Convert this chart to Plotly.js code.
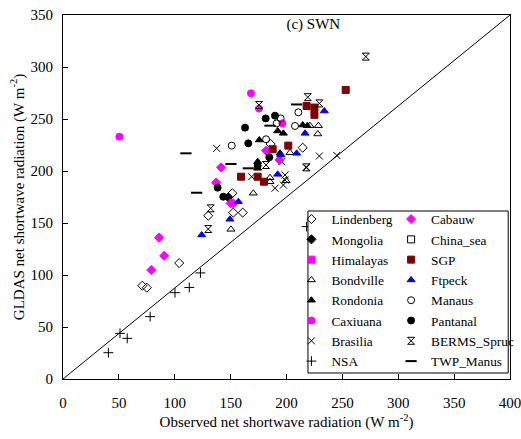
<!DOCTYPE html>
<html>
<head>
<meta charset="utf-8">
<script src="https://cdn.plot.ly/plotly-3.0.1.min.js"></script>
<style>html,body{margin:0;padding:0;background:#fff;}#chart{width:521px;height:439px;}</style>
</head>
<body>
<div id="chart"></div>
<script>
// ---- data (observed x, GLDAS y), W m-2 ----
var lindenbergX = [71, 75, 104, 130, 151.5, 152.4, 160.8, 185.8, 214.5];
var lindenbergY = [89.7, 87.8, 111.5, 157, 178.6, 160, 160, 226, 222.4];
var cabauwX = [79, 85.9, 90.6, 136.9, 141.4, 150, 152.4, 181.7, 193.6];
var cabauwY = [104.8, 135.9, 118.6, 188.8, 203.5, 168.9, 168.9, 219.5, 210.6];
var mongoliaX = [147.9];
var mongoliaY = [174.7];
var chinaSeaX = [null];
var chinaSeaY = [null];
var himalayasX = [null];
var himalayasY = [null];
var sgpX = [159.3, 174.2, 179.9, 187.6, 201.6, 218, 225, 225, 253];
var sgpY = [194.5, 194.5, 189.7, 220.9, 224.4, 262.5, 261, 254, 278];
var bondvilleX = [150.3, 170.3, 185.2, 185.2, 199.6, 203.1, 221, 228.5, 228];
var bondvilleY = [143.9, 178.6, 193.6, 189.7, 190.7, 217.6, 243.6, 243.6, 235.6];
var ftpeckX = [124.1, 149.4, 156.9, 192.1, 195, 209.1, 216.6, 233.8];
var ftpeckY = [138.5, 153.6, 170.5, 196.8, 215.4, 217, 236.2, 257.7];
var rondoniaX = [174.2, 174.2, 175.7, 192.1, 197.2, 194.2, 214.5, 218.6];
var rondoniaY = [209, 202.6, 229.8, 238.5, 236.2, 217, 244.2, 243.5];
var manausX = [151, 181.7, 194.8, 191.2, 207.6, 210.6];
var manausY = [224.4, 230.5, 250.6, 245.8, 243.3, 256.4];
var caxiuanaX = [50.4, 168.2, 175.4, 196.3];
var caxiuanaY = [233, 274.7, 260, 245.8];
var pantanalX = [138.4, 143.4, 162.9, 165.8, 181.4, 189.7, 184.6, 174.2];
var pantanalY = [184, 175.3, 241.7, 226.6, 250.6, 253.2, 213.2, 205];
var brasiliaX = [137.5, 168.8, 189.7, 197.2, 198.7, 198.7, 195.7, 217.4, 229.4, 245];
var brasiliaY = [221.8, 194.5, 183.4, 186.5, 196.2, 191.3, 209, 203.5, 214.4, 215];
var bermsX = [130, 132.2, 175.4, 181.7, 219, 229.4, 271, 218];
var bermsY = [144.2, 164.1, 263.5, 205.8, 271, 265, 310, 203.5];
var nsaX = [40.6, 51, 57.5, 78, 100.2, 113, 123, 218];
var nsaY = [25.3, 43.9, 39.1, 60, 83, 88, 102, 146.5];
var twpX = [110, 119.6, 150.3, 165.8, 185.2, 209];
var twpY = [217, 179.1, 206.7, 202.6, 243.6, 264];
var oneToOneX = [0, 400];
var oneToOneY = [0, 350];

var xTicks = [0, 50, 100, 150, 200, 250, 300, 350, 400];
var yTicks = [0, 50, 100, 150, 200, 250, 300, 350];

var MAG = '#FF00FF', DRED = '#800000', BLUE = '#0000FF', BLK = '#000000';
function tr(name, x, y, symbol, color, size, lg) {
  return {type: 'scatter', mode: 'markers', name: name, x: x, y: y, legend: lg,
    marker: {symbol: symbol, color: color, size: size, line: {color: color, width: 1}},
    cliponaxis: false, hoverinfo: 'skip'};
}
var traces = [
  {type: 'scatter', mode: 'lines', x: oneToOneX, y: oneToOneY, showlegend: false,
   line: {color: '#000', width: 1}, hoverinfo: 'skip'},
  tr('Lindenberg', lindenbergX, lindenbergY, 'diamond-open', BLK, 7, 'legend'),
  tr('Mongolia', mongoliaX, mongoliaY, 'diamond', BLK, 7, 'legend'),
  tr('Himalayas', himalayasX, himalayasY, 'square', MAG, 7, 'legend'),
  tr('Bondville', bondvilleX, bondvilleY, 'triangle-up-open', BLK, 7, 'legend'),
  tr('Rondonia', rondoniaX, rondoniaY, 'triangle-up', BLK, 7, 'legend'),
  tr('Caxiuana', caxiuanaX, caxiuanaY, 'circle', MAG, 7, 'legend'),
  tr('Brasilia', brasiliaX, brasiliaY, 'x-thin-open', BLK, 7, 'legend'),
  tr('NSA', nsaX, nsaY, 'cross-thin-open', BLK, 7, 'legend'),
  tr('Cabauw', cabauwX, cabauwY, 'diamond', MAG, 7, 'legend2'),
  tr('China_sea', chinaSeaX, chinaSeaY, 'square-open', BLK, 7, 'legend2'),
  tr('SGP', sgpX, sgpY, 'square', DRED, 7, 'legend2'),
  tr('Ftpeck', ftpeckX, ftpeckY, 'triangle-up', BLUE, 7, 'legend2'),
  tr('Manaus', manausX, manausY, 'circle-open', BLK, 7, 'legend2'),
  tr('Pantanal', pantanalX, pantanalY, 'circle', BLK, 7, 'legend2'),
  tr('BERMS_Spruc', bermsX, bermsY, 'hourglass-open', BLK, 7, 'legend2'),
  tr('TWP_Manus', twpX, twpY, 'line-ew-open', BLK, 8, 'legend2')
];
traces.forEach(function(t){ if (t.marker && t.marker.symbol === 'line-ew-open') t.marker.line.width = 2; });

var FONT = 'Liberation Serif';
var legendCommon = {
  bgcolor: 'rgba(0,0,0,0)', borderwidth: 0, orientation: 'v',
  font: {family: FONT, size: 13.3, color: '#000'},
  xanchor: 'left', yanchor: 'top', tracegroupgap: 0, itemwidth: 30
};
var layout = {
  width: 521, height: 439,
  margin: {l: 63, r: 11, t: 15, b: 60, autoexpand: false},
  paper_bgcolor: '#fff', plot_bgcolor: '#fff',
  font: {family: FONT, size: 15, color: '#000'},
  title: {text: '(c) SWN', xref: 'paper', yref: 'paper', x: 0.56, y: 0.975,
          xanchor: 'center', yanchor: 'middle', font: {family: FONT, size: 15, color: '#000'}},
  xaxis: {range: [0, 400], tickvals: xTicks, ticktext: xTicks.map(String),
          ticks: 'inside', ticklen: 5, tickcolor: '#000', showgrid: false, zeroline: false,
          showline: true, linecolor: '#000', linewidth: 1, mirror: true,
          tickfont: {family: FONT, size: 15}, automargin: false, ticklabelstandoff: 10,
          ticklabeloverflow: 'allow',
          title: {text: 'Observed net shortwave radiation (W m<sup>-2</sup>)', standoff: 6,
                  font: {family: FONT, size: 15}}},
  yaxis: {range: [0, 350], tickvals: yTicks, ticktext: yTicks.map(String),
          ticks: 'inside', ticklen: 5, tickcolor: '#000', showgrid: false, zeroline: false,
          showline: true, linecolor: '#000', linewidth: 1, mirror: true,
          tickfont: {family: FONT, size: 15}, automargin: false, ticklabelstandoff: 6,
          ticklabeloverflow: 'allow',
          title: {text: 'GLDAS net shortwave radiation (W m<sup>-2</sup>)', standoff: 2,
                  font: {family: FONT, size: 15}}},
  legend: Object.assign({}, legendCommon, {x: 0.511, y: 0.481}),
  legend2: Object.assign({}, legendCommon, {x: 0.734, y: 0.481}),
  shapes: [{type: 'rect', xref: 'paper', yref: 'paper', x0: 0.548, x1: 0.996, y0: 0.0165, y1: 0.4615,
            line: {color: '#000', width: 1}, fillcolor: '#fff', layer: 'above'}],
  showlegend: true
};
Plotly.newPlot('chart', traces, layout, {displayModeBar: false, staticPlot: true});
</script>
</body>
</html>
